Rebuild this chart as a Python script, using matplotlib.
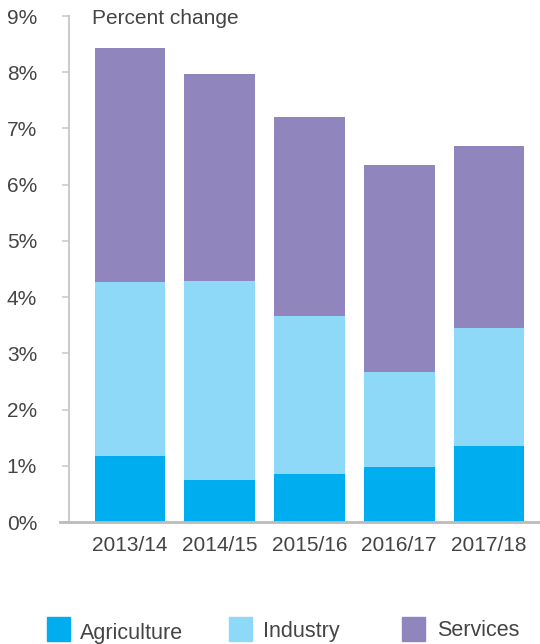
import matplotlib
matplotlib.use("Agg")
import matplotlib.pyplot as plt
from matplotlib.patches import Rectangle
import numpy as np

years = ["2013/14", "2014/15", "2015/16", "2016/17", "2017/18"]
agriculture = [1.17, 0.75, 0.85, 0.98, 1.35]
industry = [3.10, 3.54, 2.82, 1.69, 2.10]
services = [4.16, 3.68, 3.54, 3.68, 3.24]
yticks = [0, 1, 2, 3, 4, 5, 6, 7, 8, 9]
series_names = ["Agriculture", "Industry", "Services"]
colors = ["#00AEEF", "#8ED8F8", "#9185BE"]

plt.rcParams['font.family'] = ['Liberation Sans', 'DejaVu Sans']
txt_color = "#444444"
fs = 15

fig = plt.figure(figsize=(5.4, 6.44), dpi=100)
ax = fig.add_axes([60/540, (644-522)/644, 480/540, (522-16)/644])

x = np.arange(len(years))
w = 0.79
a = np.array(agriculture); i = np.array(industry); s = np.array(services)
ax.bar(x, a, w, color=colors[0], zorder=2)
ax.bar(x, i, w, bottom=a, color=colors[1], zorder=2)
ax.bar(x, s, w, bottom=a + i, color=colors[2], zorder=2)

step = 89.75
x0 = (60 - 130) / step
ax.set_xlim(x0, x0 + 480 / step)
ax.set_ylim(0, 9)
ax.spines['left'].set_position(('data', (69 - 130) / step))
for sp in ['top', 'right']:
    ax.spines[sp].set_visible(False)
ax.spines['left'].set_color("#cccccc")
ax.spines['left'].set_linewidth(1.5)
ax.spines['bottom'].set_color("#bbbbbb")
ax.spines['bottom'].set_linewidth(2)

ax.set_yticks(yticks)
ax.set_yticklabels([f"{v}%" for v in yticks], fontsize=fs, color=txt_color)
ax.tick_params(axis='y', length=5, width=1.2, color="#cccccc", pad=18)
ax.set_xticks(x)
ax.set_xticklabels(years, fontsize=fs, color=txt_color)
ax.tick_params(axis='x', length=0, pad=10)

fig.text(92/540, 1 - 19/644, "Percent change", fontsize=fs, color=txt_color,
         ha='left', va='center')

# legend
sq_w, sq_h = 23, 24
items = [(47, 80, 634), (229, 263, 631), (402, 437, 631)]
for (sx, tx, ty), name, c in zip(items, series_names, colors):
    fig.add_artist(Rectangle((sx/540, (644-617-sq_h)/644), sq_w/540, sq_h/644,
                             transform=fig.transFigure, color=c, clip_on=False))
    fig.text(tx/540, 1 - ty/644, name, fontsize=15.5, color=txt_color,
             ha='left', va='center')

fig.savefig("out.png", dpi=100)
